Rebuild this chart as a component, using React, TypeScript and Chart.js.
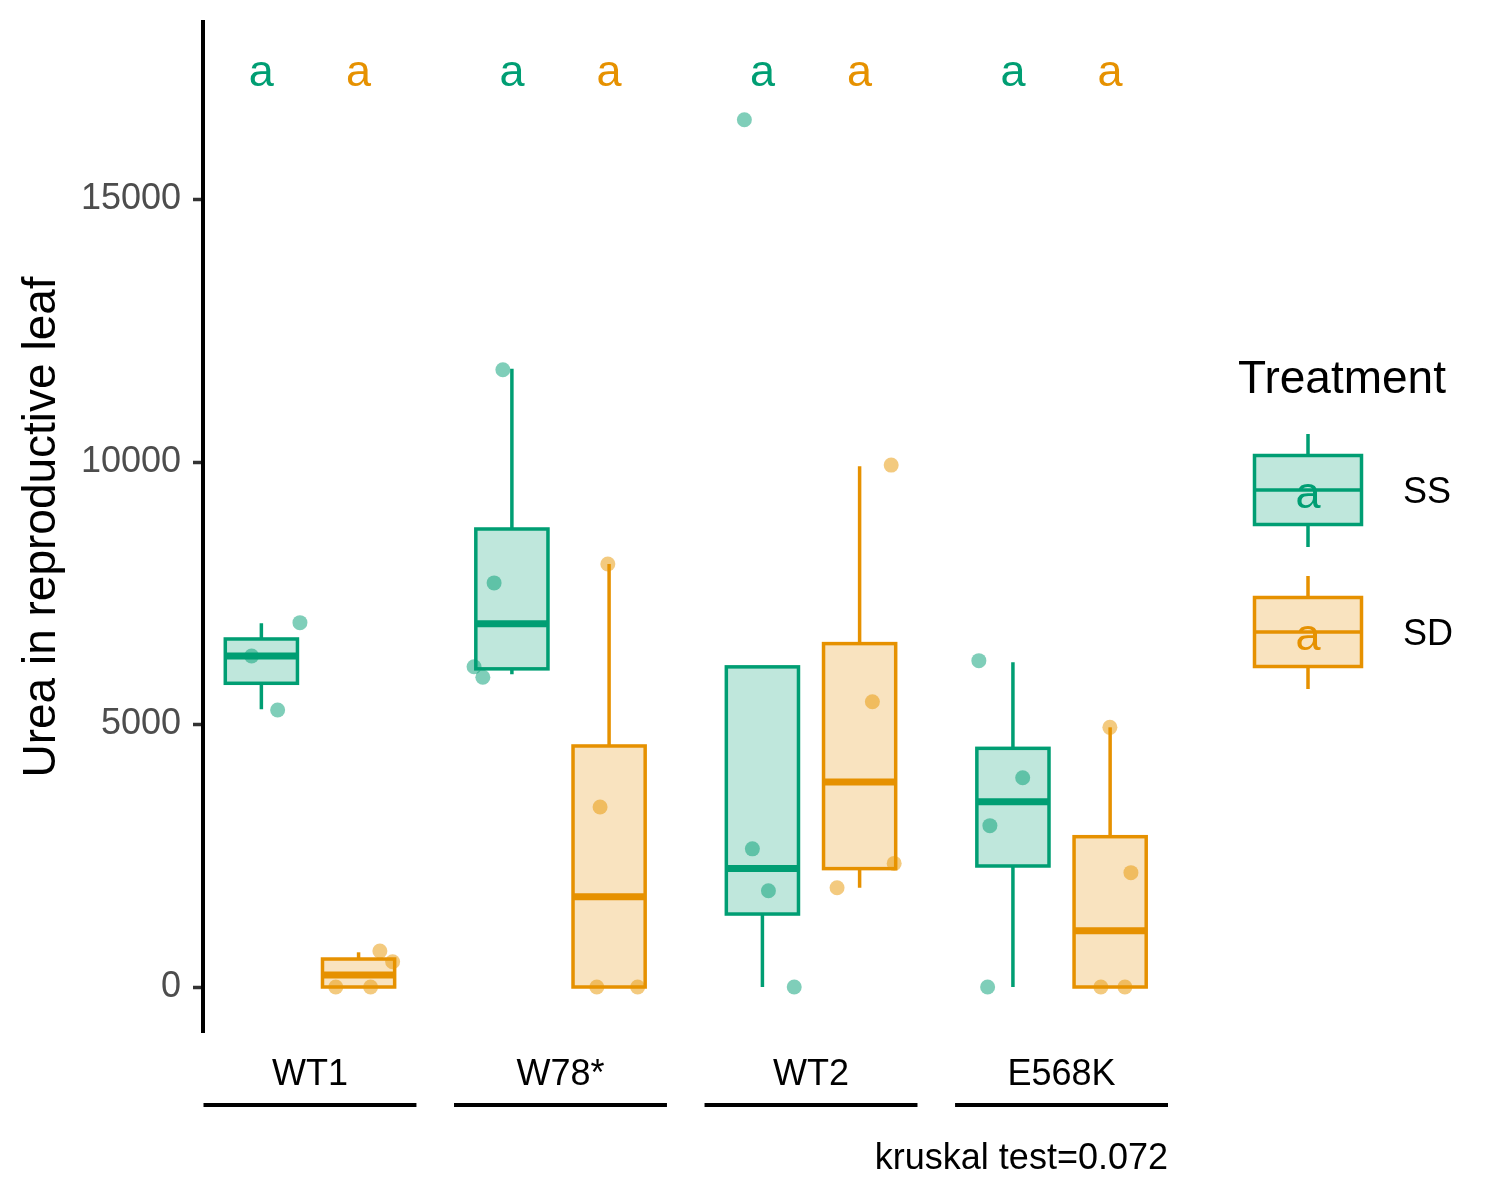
import React, { useEffect, useRef } from "react";
import { Chart, registerables } from "chart.js";

Chart.register(...registerables);

const CATEGORIES = ["WT1", "W78*", "WT2", "E568K"];
const TREATMENTS = ["SS", "SD"];
const Y_TICKS = [0, 5000, 10000, 15000];

// box stats per category: [lower whisker, q1, median, q3, upper whisker]
const SS_BOX = [
  [5290, 5785, 6305, 6629, 6927],
  [5956, 6060, 6918, 8724, 11775],
  [0, 1390, 2255, 6098, 6098],
  [0, 2305, 3530, 4546, 6185],
];
const SD_BOX = [
  [0, 0, 229, 533, 661],
  [0, 0, 1718, 4591, 8057],
  [1890, 2255, 3905, 6541, 9918],
  [0, 0, 1073, 2863, 4946],
];

// jittered raw observations (x in category units)
const SS_POINTS_X = [0.767, 0.871, 0.96, 1.77, 1.735, 1.655, 1.69, 2.734, 2.766, 2.83, 2.933, 3.67, 3.845, 3.714, 3.705];
const SS_POINTS_Y = [6305, 5276, 6940, 11757, 7697, 6099, 5899, 16519, 2632, 1834, 0, 6216, 3987, 3073, 0];
const SD_POINTS_X = [1.103, 1.242, 1.279, 1.33, 2.189, 2.158, 2.145, 2.308, 3.32, 3.245, 3.104, 3.332, 4.193, 4.277, 4.157, 4.253];
const SD_POINTS_Y = [0, 0, 686, 482, 8057, 3429, 0, 0, 9941, 5434, 1890, 2354, 4946, 2178, 0, 0];

// significance letters
const SS_LETTERS = ["a", "a", "a", "a"];
const SD_LETTERS = ["a", "a", "a", "a"];
const LETTER_Y = 17160;

const KRUSKAL_P = "0.072";

const COLORS = { SS: "#009E73", SD: "#E69100" };
const FILLS = { SS: "rgba(0,158,115,0.25)", SD: "rgba(230,145,0,0.25)" };
const POINT_FILLS = { SS: "rgba(0,158,115,0.5)", SD: "rgba(232,150,0,0.5)" };

const FONT = "'Liberation Sans', Arial, sans-serif";
const DODGE = 0.194;
const BOX_HALF = 0.144;
const GROUP_HALF = 0.425;

const drawBoxes = (chart: any, stats: number[][], offset: number, color: string, fill: string) => {
  const { ctx, scales } = chart;
  const { x, y } = scales;
  stats.forEach(([lo, q1, med, q3, hi], i) => {
    const c = i + 1 + offset;
    const left = x.getPixelForValue(c - BOX_HALF);
    const right = x.getPixelForValue(c + BOX_HALF);
    const mid = x.getPixelForValue(c);
    const top = y.getPixelForValue(q3);
    const bottom = y.getPixelForValue(q1);
    ctx.save();
    ctx.strokeStyle = color;
    ctx.lineCap = "butt";
    ctx.lineWidth = 3.5;
    ctx.beginPath();
    ctx.moveTo(mid, top);
    ctx.lineTo(mid, y.getPixelForValue(hi));
    ctx.moveTo(mid, bottom);
    ctx.lineTo(mid, y.getPixelForValue(lo));
    ctx.stroke();
    ctx.fillStyle = fill;
    ctx.fillRect(left, top, right - left, bottom - top);
    ctx.strokeRect(left, top, right - left, bottom - top);
    const ym = y.getPixelForValue(med);
    ctx.lineWidth = 7;
    ctx.beginPath();
    ctx.moveTo(left, ym);
    ctx.lineTo(right, ym);
    ctx.stroke();
    ctx.restore();
  });
};

const boxPlugin = {
  id: "boxes",
  beforeDatasetsDraw(chart: any) {
    drawBoxes(chart, SS_BOX, -DODGE, COLORS.SS, FILLS.SS);
    drawBoxes(chart, SD_BOX, DODGE, COLORS.SD, FILLS.SD);
  },
};

const annotationPlugin = {
  id: "annotations",
  afterDraw(chart: any) {
    const { ctx, chartArea, scales } = chart;
    const { x, y } = scales;
    ctx.save();

    // letters above groups
    ctx.font = `45px ${FONT}`;
    ctx.textAlign = "center";
    ctx.textBaseline = "alphabetic";
    const ly = y.getPixelForValue(LETTER_Y);
    CATEGORIES.forEach((_, i) => {
      ctx.fillStyle = COLORS.SS;
      ctx.fillText(SS_LETTERS[i], x.getPixelForValue(i + 1 - DODGE), ly);
      ctx.fillStyle = COLORS.SD;
      ctx.fillText(SD_LETTERS[i], x.getPixelForValue(i + 1 + DODGE), ly);
    });

    // per-group axis segments
    ctx.strokeStyle = "#000";
    ctx.lineWidth = 4;
    ctx.lineCap = "butt";
    CATEGORIES.forEach((_, i) => {
      ctx.beginPath();
      ctx.moveTo(x.getPixelForValue(i + 1 - GROUP_HALF), 1105);
      ctx.lineTo(x.getPixelForValue(i + 1 + GROUP_HALF), 1105);
      ctx.stroke();
    });

    // caption
    ctx.fillStyle = "#000";
    ctx.font = `36px ${FONT}`;
    ctx.textAlign = "right";
    ctx.fillText(`kruskal test=${KRUSKAL_P}`, chartArea.right, 1169);

    // legend
    ctx.textAlign = "left";
    ctx.font = `46px ${FONT}`;
    ctx.fillText("Treatment", 1238, 393);
    const keyX = 1308;
    TREATMENTS.forEach((t, i) => {
      const cy = 490 + i * 142;
      const color = COLORS[t as "SS" | "SD"];
      ctx.strokeStyle = color;
      ctx.lineWidth = 3.5;
      ctx.beginPath();
      ctx.moveTo(keyX, cy - 56);
      ctx.lineTo(keyX, cy - 35);
      ctx.moveTo(keyX, cy + 35);
      ctx.lineTo(keyX, cy + 57);
      ctx.stroke();
      ctx.fillStyle = FILLS[t as "SS" | "SD"];
      ctx.fillRect(keyX - 53.5, cy - 34.5, 107, 69);
      ctx.strokeRect(keyX - 53.5, cy - 34.5, 107, 69);
      ctx.beginPath();
      ctx.moveTo(keyX - 53.5, cy);
      ctx.lineTo(keyX + 53.5, cy);
      ctx.stroke();
      ctx.fillStyle = color;
      ctx.font = `45px ${FONT}`;
      ctx.textAlign = "center";
      ctx.fillText("a", keyX, cy + 18);
      ctx.fillStyle = "#000";
      ctx.font = `36px ${FONT}`;
      ctx.textAlign = "left";
      ctx.fillText(t, 1403, cy + 13);
    });
    ctx.restore();
  },
};

export default function App() {
  const canvasRef = useRef<HTMLCanvasElement>(null);
  const chartRef = useRef<Chart | null>(null);

  useEffect(() => {
    if (!canvasRef.current) return;
    if (chartRef.current) chartRef.current.destroy();

    chartRef.current = new Chart(canvasRef.current, {
      type: "scatter",
      data: {
        datasets: [
          {
            label: "SS",
            data: SS_POINTS_X.map((x, i) => ({ x, y: SS_POINTS_Y[i] })),
            backgroundColor: POINT_FILLS.SS,
            borderWidth: 0,
            pointRadius: 7.5,
            pointHoverRadius: 7.5,
          },
          {
            label: "SD",
            data: SD_POINTS_X.map((x, i) => ({ x, y: SD_POINTS_Y[i] })),
            backgroundColor: POINT_FILLS.SD,
            borderWidth: 0,
            pointRadius: 7.5,
            pointHoverRadius: 7.5,
          },
        ],
      },
      options: {
        responsive: false,
        animation: false,
        events: [],
        layout: { padding: { left: 0, top: 22, right: 332, bottom: 48 } },
        plugins: {
          legend: { display: false },
          tooltip: { enabled: false },
        },
        scales: {
          x: {
            type: "linear",
            min: 0.573,
            max: 4.425,
            afterBuildTicks: (scale: any) => {
              scale.ticks = CATEGORIES.map((_, i) => ({ value: i + 1 }));
            },
            afterFit: (scale: any) => {
              scale.height = 120;
              scale.paddingLeft = 0;
              scale.paddingRight = 0;
            },
            grid: { display: false },
            border: { display: false },
            ticks: {
              autoSkip: false,
              maxRotation: 0,
              padding: 13,
              color: "#000",
              font: { family: FONT, size: 36 },
              callback: (v: any) => CATEGORIES[Math.round(Number(v)) - 1] ?? "",
            },
          },
          y: {
            type: "linear",
            min: -857,
            max: 18381,
            afterBuildTicks: (scale: any) => {
              scale.ticks = Y_TICKS.map((value) => ({ value }));
            },
            afterFit: (scale: any) => {
              scale.width = 203;
              scale.paddingTop = 0;
              scale.paddingBottom = 0;
            },
            grid: {
              drawOnChartArea: false,
              drawTicks: true,
              tickLength: 10,
              tickWidth: 3.5,
              tickColor: "#333333",
            },
            border: { display: true, color: "#000", width: 4 },
            ticks: {
              padding: 12,
              color: "#4D4D4D",
              font: { family: FONT, size: 36 },
              callback: (v: any) => String(v),
            },
            title: {
              display: true,
              text: "Urea in reproductive leaf",
              color: "#000",
              font: { family: FONT, size: 46 },
              padding: { top: 15, bottom: 0 },
            },
          },
        },
      },
      plugins: [boxPlugin, annotationPlugin],
    });

    return () => {
      chartRef.current?.destroy();
      chartRef.current = null;
    };
  }, []);

  return (
    <div style={{ position: "absolute", left: 0, top: 0, width: 1500, height: 1200, background: "#fff" }}>
      <canvas ref={canvasRef} width={1500} height={1200} style={{ display: "block" }} />
    </div>
  );
}
